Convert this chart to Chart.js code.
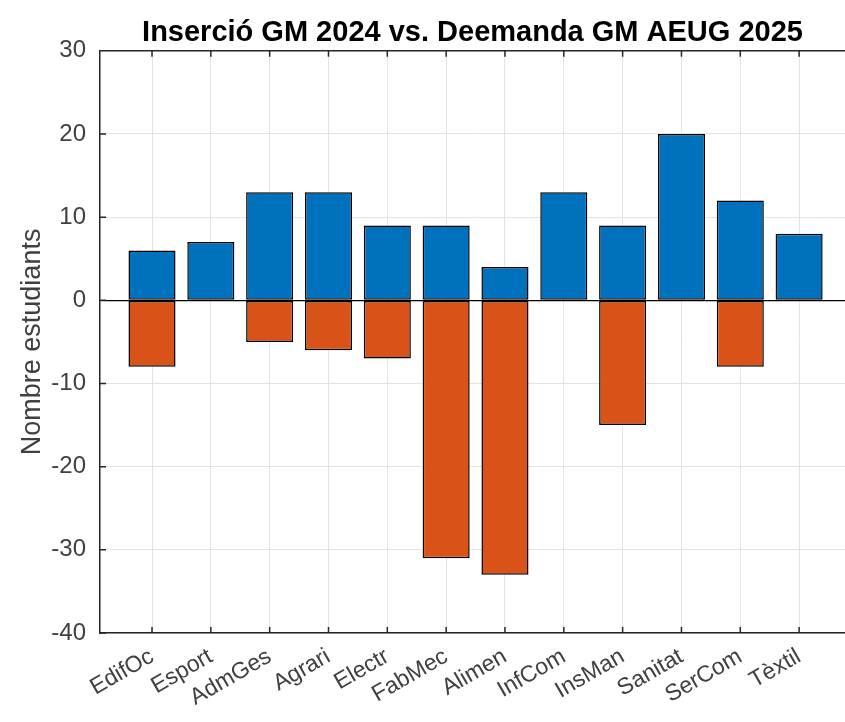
<!DOCTYPE html>
<html>
<head>
<meta charset="utf-8">
<script src="https://cdn.jsdelivr.net/npm/chart.js@4/dist/chart.umd.min.js"></script>
<style>
  html, body { margin: 0; padding: 0; background: #fff; overflow: hidden; }
  #wrap { width: 845px; height: 722px; }
</style>
</head>
<body>
<div id="wrap"><canvas id="grafica"></canvas></div>
<script>
// dades del grafic
const families = ['EdifOc', 'Esport', 'AdmGes', 'Agrari', 'Electr', 'FabMec', 'Alimen', 'InfCom', 'InsMan', 'Sanitat', 'SerCom', 'Tèxtil'];
const insercio = [6, 7, 13, 13, 9, 9, 4, 13, 9, 20, 12, 8];
const demanda = [-8, 0, -5, -6, -7, -31, -33, 0, -15, 0, -8, 0];
const yTicks = [-40, -30, -20, -10, 0, 10, 20, 30];

const AXIS_COLOR = '#262626';
const TEXT_COLOR = '#404040';

// marques cap a dins i vora superior, estil MATLAB
const boxTicks = {
    id: 'boxTicks',
    afterDraw(chart) {
        const { ctx, chartArea: a, scales } = chart;
        ctx.save();
        ctx.strokeStyle = AXIS_COLOR;
        ctx.lineWidth = 1.5;
        ctx.beginPath();
        ctx.moveTo(a.left, a.top);
        ctx.lineTo(a.right, a.top);
        scales.x.ticks.forEach(t => {
            const px = scales.x.getPixelForValue(t.value);
            ctx.moveTo(px, a.bottom);
            ctx.lineTo(px, a.bottom - 6);
            ctx.moveTo(px, a.top);
            ctx.lineTo(px, a.top + 6);
        });
        scales.y.ticks.forEach(t => {
            const py = scales.y.getPixelForValue(t.value);
            ctx.moveTo(a.left, py);
            ctx.lineTo(a.left + 6, py);
        });
        ctx.stroke();
        ctx.restore();
    }
};

const ctx = document.getElementById('grafica').getContext('2d');
new Chart(ctx, {
    type: 'bar',
    data: {
        datasets: [{
            label: 'Inserció GM 2024',
            data: insercio.map((v, i) => ({ x: i + 1, y: v })),
            backgroundColor: '#0072BD',
            borderColor: '#000000',
            borderWidth: 1.5,
            borderSkipped: false,
            barPercentage: 0.8,
            categoryPercentage: 1
        }, {
            label: 'Demanda GM AEUG 2025',
            data: demanda.map((v, i) => ({ x: i + 1, y: v })),
            backgroundColor: '#D95319',
            borderColor: '#000000',
            borderWidth: 1.5,
            borderSkipped: false,
            barPercentage: 0.8,
            categoryPercentage: 1
        }]
    },
    options: {
        responsive: true,
        maintainAspectRatio: false,
        animation: false,
        layout: { padding: { left: 0, right: 0, top: 0, bottom: 0 } },
        plugins: {
            legend: { display: false },
            tooltip: { enabled: false },
            title: {
                display: true,
                fullSize: false,
                text: 'Inserció GM 2024 vs. Deemanda GM AEUG 2025',
                color: '#000000',
                font: { family: 'Liberation Sans', size: 29, weight: 'bold' },
                padding: { top: 16, bottom: 0 }
            }
        },
        scales: {
            x: {
                type: 'linear',
                stacked: true,
                offset: false,
                min: 0.116,
                max: 12.78,
                afterBuildTicks: axis => {
                    axis.ticks = families.map((f, i) => ({ value: i + 1 }));
                },
                afterFit: axis => { axis.height = 89; },
                ticks: {
                    autoSkip: false,
                    maxRotation: 30,
                    minRotation: 30,
                    padding: 10,
                    color: TEXT_COLOR,
                    font: { family: 'Liberation Sans', size: 23 },
                    callback: (v, i) => families[i]
                },
                grid: { offset: false, color: '#e3e3e3', lineWidth: 1, drawTicks: false },
                border: { color: AXIS_COLOR, width: 1.5 }
            },
            y: {
                stacked: true,
                min: -40,
                max: 30,
                afterBuildTicks: axis => {
                    axis.ticks = yTicks.map(v => ({ value: v }));
                },
                afterFit: axis => { axis.width = 100; },
                ticks: {
                    padding: 14,
                    color: TEXT_COLOR,
                    font: { family: 'Liberation Sans', size: 24 }
                },
                grid: {
                    drawTicks: false,
                    color: c => c.tick && c.tick.value === 0 ? '#000000' : '#e3e3e3',
                    lineWidth: c => c.tick && c.tick.value === 0 ? 1.2 : 1
                },
                border: { color: AXIS_COLOR, width: 1.5 },
                title: {
                    display: true,
                    text: 'Nombre estudiants',
                    color: TEXT_COLOR,
                    font: { family: 'Liberation Sans', size: 27 },
                    padding: { top: 16, bottom: 0 }
                }
            }
        }
    },
    plugins: [boxTicks]
});
</script>
</body>
</html>
